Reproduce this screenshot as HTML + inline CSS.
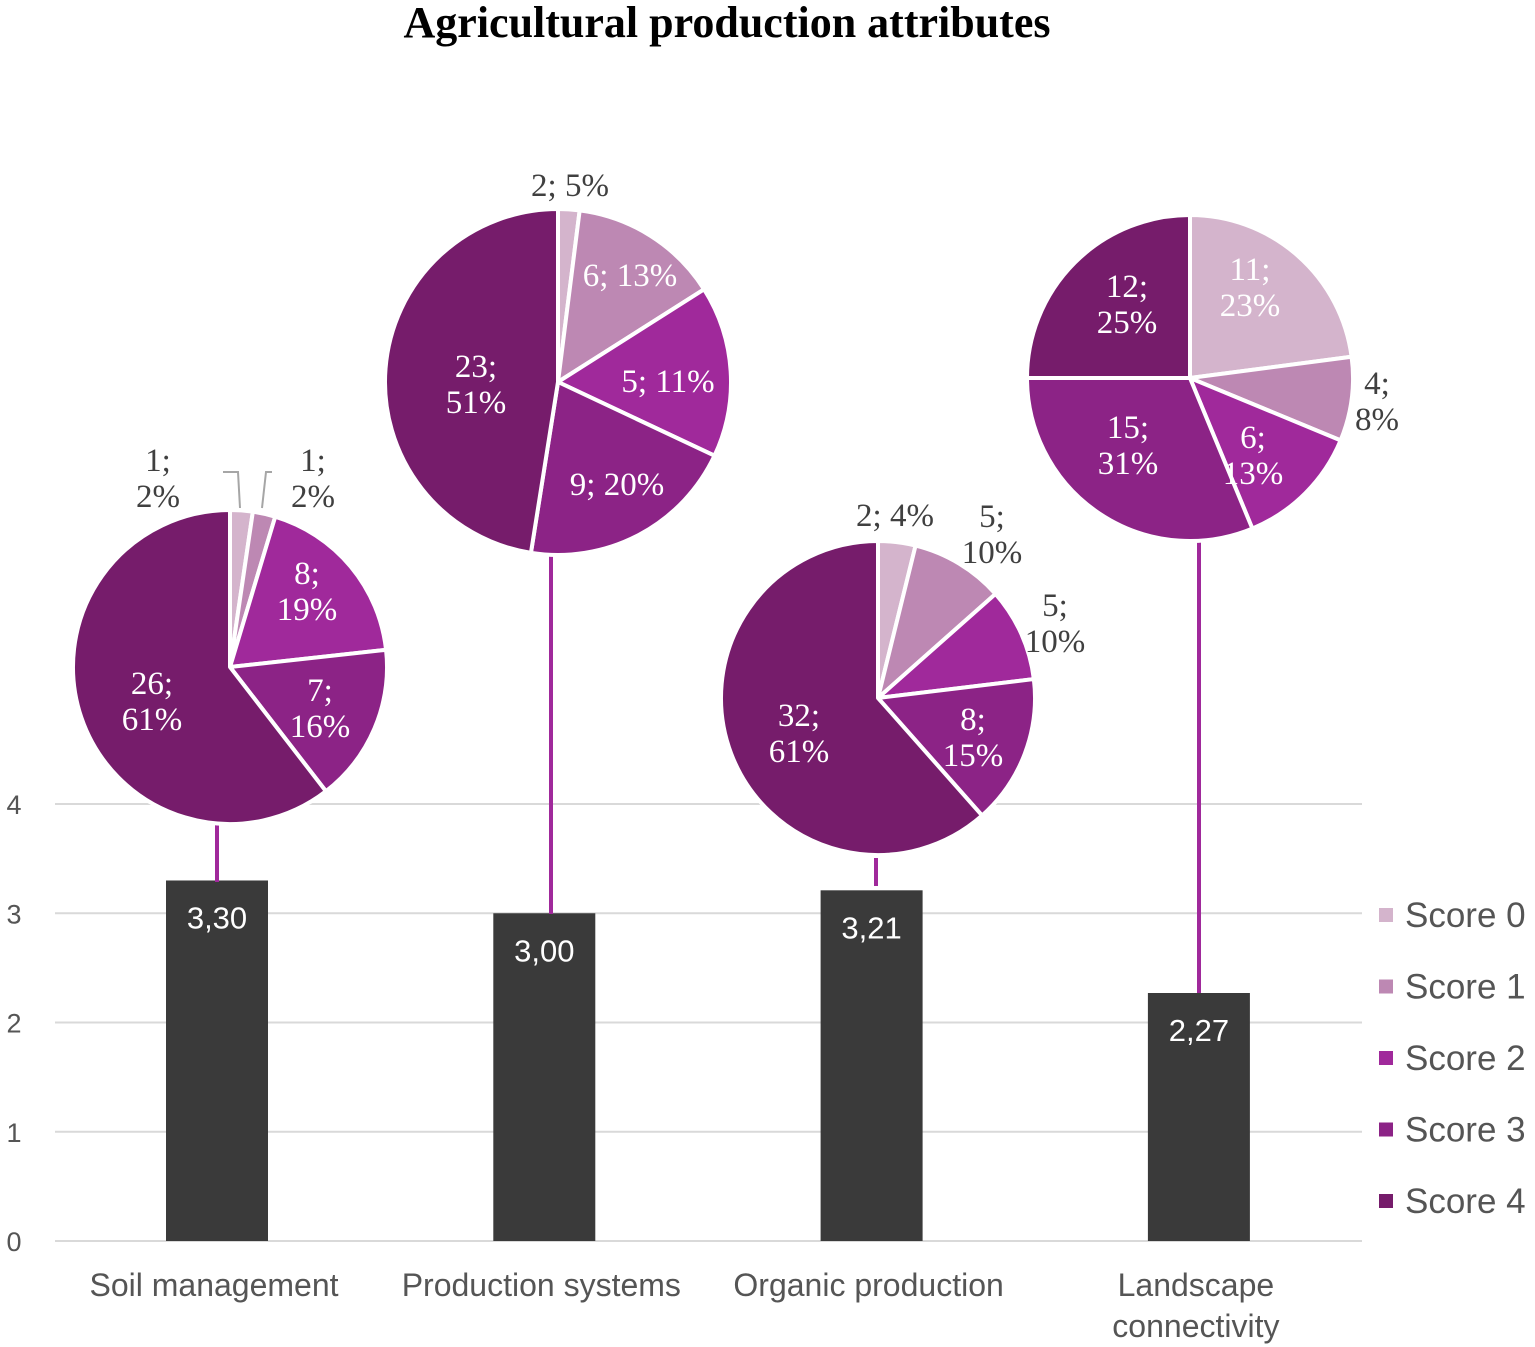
<!DOCTYPE html>
<html><head><meta charset="utf-8"><style>
body{margin:0;background:#fff;}
svg{display:block;}
</style></head><body>
<svg id="chart" width="1535" height="1347" viewBox="0 0 1535 1347" xmlns="http://www.w3.org/2000/svg">
<text x="727" y="37" text-anchor="middle" font-family="Liberation Serif, serif" font-weight="bold" font-size="44" fill="#000">Agricultural production attributes</text>
<g id="grid"></g><g id="bars"></g><g id="pies"></g><g id="legend"></g>
</svg>
<script>
const categories = ["Soil management", "Production systems", "Organic production", "Landscape connectivity"];
const meanScores = [3.30, 3.00, 3.21, 2.27];
const meanLabels = ["3,30", "3,00", "3,21", "2,27"];
const yTicks = [0, 1, 2, 3, 4];
const scoreNames = ["Score 0", "Score 1", "Score 2", "Score 3", "Score 4"];
const soilCounts = [1, 1, 8, 7, 26];
const soilPct = [2, 2, 19, 16, 61];
const prodCounts = [2, 6, 5, 9, 23];
const prodPct = [5, 13, 11, 20, 51];
const prodSliceShares = [2, 14, 16, 20.5, 47.5];
const orgCounts = [2, 5, 5, 8, 32];
const orgPct = [4, 10, 10, 15, 61];
const landCounts = [11, 4, 6, 15, 12];
const landPct = [23, 8, 13, 31, 25];

const NS = "http://www.w3.org/2000/svg";
const colors = ["#d4b4cc", "#bd88b3", "#a0299b", "#8c2386", "#761c6b"];
function mk(tag, attrs, parent){const e=document.createElementNS(NS,tag);for(const k in attrs)e.setAttribute(k,attrs[k]);parent.appendChild(e);return e;}
const yPix = v => 1241 - v * 109.25;
const xCenter = i => 217 + i * 327.3;

const grid = document.getElementById('grid');
yTicks.forEach(t => {
  const l = mk('line',{x1:55,x2:1362,y1:yPix(t),y2:yPix(t),stroke:'#d9d9d9','stroke-width':2},grid);
  
  
  const tx = mk('text',{x:14,y:yPix(t)+10,'text-anchor':'middle','font-family':'Liberation Sans, sans-serif','font-size':27,fill:'#555'},grid);
  tx.textContent = t;
  
  
});

const bars = document.getElementById('bars');
categories.forEach((c,i) => {
  const x = xCenter(i);
  const r = mk('rect',{x:x-51,y:yPix(meanScores[i]),width:102,height:yPix(0)-yPix(meanScores[i]),fill:'#3a3a3a'},bars);
  
  
  const t = mk('text',{x:x,y:yPix(meanScores[i])+48,'text-anchor':'middle','font-family':'Liberation Sans, sans-serif','font-size':31,fill:'#fff'},bars);
  t.textContent = meanLabels[i];
  
  
  const words = c === "Landscape connectivity" ? ["Landscape","connectivity"] : [c];
  words.forEach((w,j) => {
    const ct = mk('text',{x:x-3,y:1296+j*41,'text-anchor':'middle','font-family':'Liberation Sans, sans-serif','font-size':32,fill:'#555'},bars);
    ct.textContent = w;
    
    
  });
});

const pieLayout = [
  {cx:230,cy:667,r:157,line:[217,824,882],
   lab:[[158,475,0,1],[313,475,0,1],[307,588,1,1],[320,705,1,1],[152,698,1,1]]},
  {cx:558,cy:382,r:173,line:[551,538,914],
   lab:[[570,196,0,0],[630,286,1,0],[668,392,1,0],[617,495,1,0],[476,381,1,1]]},
  {cx:878,cy:698,r:157,line:[876,858,886],
   lab:[[895,526,0,0],[992,531,0,1],[1055,620,0,1],[973,734,1,1],[799,730,1,1]]},
  {cx:1190,cy:378,r:163,line:[1199,540,993],
   lab:[[1250,284,1,1],[1377,398,0,1],[1253,452,1,1],[1128,442,1,1],[1127,301,1,1]]}
];
const pieCounts = [soilCounts, prodCounts, orgCounts, landCounts];
const pieSlices = [soilCounts, prodSliceShares, orgCounts, landCounts];
const piePct = [soilPct, prodPct, orgPct, landPct];
const pies = document.getElementById('pies');
pieLayout.forEach((p,i) => {
  const ln = mk('line',{x1:p.line[0],x2:p.line[0],y1:p.line[1],y2:p.line[2],stroke:'#a0299b','stroke-width':4},pies);
  
  
  const counts = pieCounts[i];
  const sl = pieSlices[i];
  const total = sl.reduce((a,b)=>a+b,0);
  let a0 = -Math.PI/2;
  sl.forEach((v,k) => {
    const a1 = a0 + v/total*2*Math.PI;
    const x0 = p.cx + p.r*Math.cos(a0), y0 = p.cy + p.r*Math.sin(a0);
    const x1 = p.cx + p.r*Math.cos(a1), y1 = p.cy + p.r*Math.sin(a1);
    const large = (a1-a0) > Math.PI ? 1 : 0;
    const s = mk('path',{d:`M${p.cx},${p.cy}L${x0},${y0}A${p.r},${p.r} 0 ${large} 1 ${x1},${y1}Z`,fill:colors[k],stroke:'#fff','stroke-width':4,'stroke-linejoin':'round'},pies);
    
    
    a0 = a1;
  });
  counts.forEach((v,k) => {
    const L = p.lab[k];
    const fill = L[2] ? '#fff' : '#404040';
    const txt = mk('text',{x:L[0],y:L[1],'text-anchor':'middle','font-family':'Liberation Serif, serif','font-size':33,fill:fill},pies);
    
    
    if (L[3]) {
      const t1 = mk('tspan',{x:L[0],dy:-4},txt); t1.textContent = v+';';
      const t2 = mk('tspan',{x:L[0],dy:36},txt); t2.textContent = piePct[i][k]+'%';
    } else {
      txt.textContent = v+'; '+piePct[i][k]+'%';
    }
  });
});
[[223,472,238,472,240,508],[272,472,266,472,262,508]].forEach(q=>{
  const pl = mk('polyline',{points:`${q[0]},${q[1]} ${q[2]},${q[3]} ${q[4]},${q[5]}`,fill:'none',stroke:'#a6a6a6','stroke-width':2},pies);
  
  
});

const legend = document.getElementById('legend');
scoreNames.forEach((n,k) => {
  const y = 915 + k*71.5;
  const r = mk('rect',{x:1379,y:y-7,width:14,height:14,fill:colors[k]},legend);
  
  
  const t = mk('text',{x:1405,y:y+12,'font-family':'Liberation Sans, sans-serif','font-size':35,fill:'#555'},legend);
  t.textContent = n;
  
  
});
</script>
</body></html>
